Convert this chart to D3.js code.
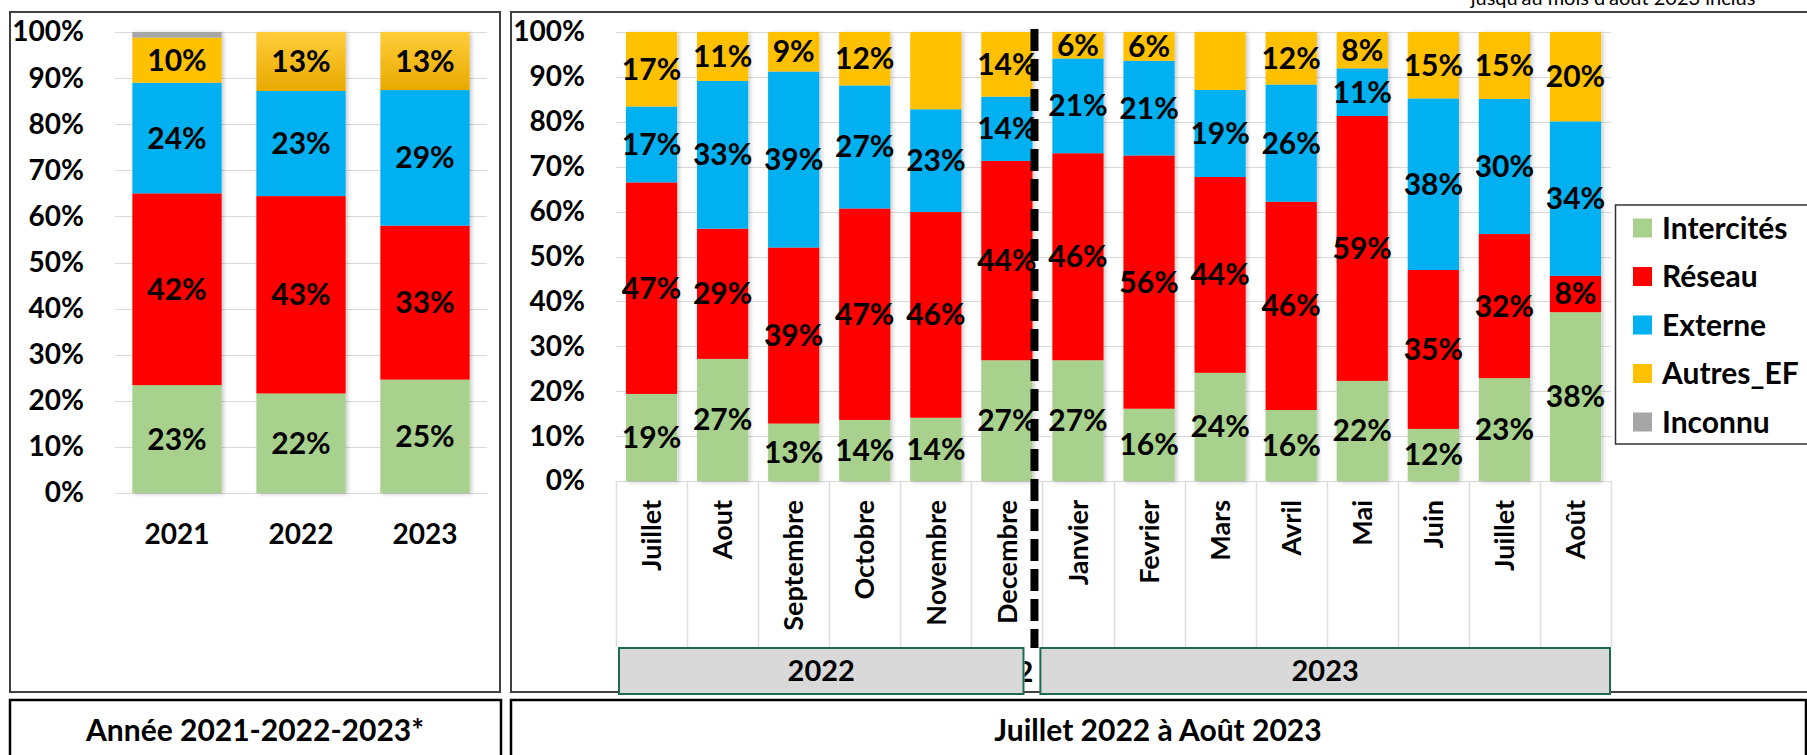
<!DOCTYPE html>
<html>
<head>
<meta charset="utf-8">
<script src="https://cdn.jsdelivr.net/npm/d3@7"></script>
<style>
  html, body { margin: 0; padding: 0; background: #ffffff; }
  svg { display: block; }
  text { font-family: Lato, "Open Sans", sans-serif; }
</style>
</head>
<body>
<svg id="chart" width="1807" height="755"></svg>
<script>
// ---------------- DATA ----------------
const seriesNames = ["Intercités", "Réseau", "Externe", "Autres_EF", "Inconnu"];
const seriesColors = ["#a9d18e", "#ff0000", "#00b0f0", "#ffc000", "#a6a6a6"];

// Left chart : années
const yearCats = ["2021", "2022", "2023"];
const yearIntercites = [23.4, 21.6, 24.6];
const yearReseau     = [41.6, 42.8, 33.4];
const yearExterne    = [24.0, 22.8, 29.4];
const yearAutres     = [9.8, 12.8, 12.6];
const yearInconnu    = [1.2, 0, 0];
const yearGradientCats = ["2022", "2023"];

// Right chart : mois
const monthLabels = ["Juillet", "Aout", "Septembre", "Octobre", "Novembre", "Decembre",
                     "Janvier", "Fevrier", "Mars", "Avril", "Mai", "Juin", "Juillet", "Août"];
const monthYears = ["2022", "2022", "2022", "2022", "2022", "2022",
                    "2023", "2023", "2023", "2023", "2023", "2023", "2023", "2023"];
const monthIntercites = [19.4, 27.2, 12.8, 13.6, 14.1, 26.9, 26.9, 16.1, 24.1, 15.8, 22.3, 11.6, 22.9, 37.6];
const monthReseau     = [47.1, 29.0, 39.2, 47.1, 45.8, 44.4, 46.1, 56.4, 43.6, 46.4, 59.0, 35.4, 32.1, 8.1];
const monthExterne    = [16.9, 32.9, 39.2, 27.4, 22.9, 14.3, 21.1, 21.1, 19.4, 26.1, 10.6, 38.2, 30.1, 34.4];
const monthAutres     = [16.6, 10.9, 8.8, 11.9, 17.2, 14.4, 5.9, 6.4, 12.9, 11.7, 8.1, 14.8, 14.9, 19.9];
const monthInconnu    = [0, 0, 0, 0, 0, 0, 0, 0, 0, 0, 0, 0, 0, 0];
// labels not displayed in the original
const monthHiddenLabels = [[4, "Autres_EF"], [8, "Autres_EF"]];

const yTicks = [0, 10, 20, 30, 40, 50, 60, 70, 80, 90, 100];
const noteText = "jusqu'au mois d'août 2023 inclus";
const leftTitle = "Année 2021-2022-2023*";
const rightTitle = "Juillet 2022 à Août 2023";

// ---------------- DRAW ----------------
const svg = d3.select("#chart");
svg.append("rect").attr("width", 1807).attr("height", 755).attr("fill", "#fff");

const defs = svg.append("defs");
const f = defs.append("filter").attr("id", "shadow").attr("x", "-20%").attr("y", "-5%")
  .attr("width", "140%").attr("height", "110%");
f.append("feDropShadow").attr("dx", 2).attr("dy", 1).attr("stdDeviation", 2)
  .attr("flood-color", "#000").attr("flood-opacity", 0.22);
const g1 = defs.append("linearGradient").attr("id", "orangeGrad")
  .attr("x1", 0).attr("y1", 0).attr("x2", 0).attr("y2", 1);
g1.append("stop").attr("offset", "0%").attr("stop-color", "#ffcd3a");
g1.append("stop").attr("offset", "100%").attr("stop-color", "#e8a900");
const clip = defs.append("clipPath").attr("id", "strayClip");

const AXIS_FONT = 28;
const LABEL_FONT = 30;
const LEGEND_FONT = 30;
const TITLE_FONT = 30;
const MONTH_FONT = 27;

// panels
svg.append("rect").attr("x", 10).attr("y", 12).attr("width", 490).attr("height", 680)
  .attr("fill", "none").attr("stroke", "#404040").attr("stroke-width", 2);
svg.append("rect").attr("x", 511).attr("y", 12).attr("width", 1310).attr("height", 680)
  .attr("fill", "none").attr("stroke", "#404040").attr("stroke-width", 2);
svg.append("rect").attr("x", 10).attr("y", 700).attr("width", 491).attr("height", 70)
  .attr("fill", "none").attr("stroke", "#000").attr("stroke-width", 2.5);
svg.append("rect").attr("x", 511).attr("y", 700).attr("width", 1295).attr("height", 70)
  .attr("fill", "none").attr("stroke", "#000").attr("stroke-width", 2.5);

svg.append("text").attr("x", 255).attr("y", 730).attr("dy", "0.35em")
  .attr("text-anchor", "middle").attr("font-weight", 700).attr("font-size", TITLE_FONT).text(leftTitle);
svg.append("text").attr("x", 1158).attr("y", 730).attr("dy", "0.35em")
  .attr("text-anchor", "middle").attr("font-weight", 700).attr("font-size", TITLE_FONT).text(rightTitle);

svg.append("text").attr("x", 1613).attr("y", 5).attr("text-anchor", "middle")
  .attr("font-size", 20).attr("fill", "#000").text(noteText);

function buildRows(cats, arrs) {
  return cats.map((c, i) => {
    const o = { key: i, cat: c };
    seriesNames.forEach((s, k) => { o[s] = arrs[k][i]; });
    return o;
  });
}

function drawStacked(cfg) {
  const { rows, x, y, axisX, hidden, gradientCats } = cfg;
  const stack = d3.stack().keys(seriesNames)(rows);
  const [x0, x1] = x.range();

  // gridlines
  svg.append("g").selectAll("line").data(yTicks).join("line")
    .attr("x1", x0).attr("x2", x1)
    .attr("y1", d => Math.round(y(d)) + 0.5).attr("y2", d => Math.round(y(d)) + 0.5)
    .attr("stroke", "#d9d9d9").attr("stroke-width", 1);

  // y axis labels
  const ya = svg.append("g").attr("transform", `translate(${axisX},0)`)
    .call(d3.axisLeft(y).tickValues(yTicks).tickFormat(d => d + "%").tickSize(0).tickPadding(0));
  ya.select(".domain").remove();
  ya.selectAll("text").attr("font-family", "Lato, sans-serif").attr("font-size", AXIS_FONT)
    .attr("font-weight", 700).attr("fill", "#000");

  // bars
  const gb = svg.append("g").attr("filter", "url(#shadow)");
  stack.forEach((layer, k) => {
    gb.append("g").selectAll("rect").data(layer).join("rect")
      .attr("x", d => x(d.data.key))
      .attr("width", x.bandwidth())
      .attr("y", d => y(d[1]))
      .attr("height", d => Math.max(0, y(d[0]) - y(d[1])))
      .attr("fill", d => (seriesNames[k] === "Autres_EF" && gradientCats && gradientCats.includes(d.data.cat))
        ? "url(#orangeGrad)" : seriesColors[k]);
  });

  // labels
  const gl = svg.append("g");
  stack.forEach((layer, k) => {
    const name = seriesNames[k];
    gl.append("g").selectAll("text")
      .data(layer.filter(d => (d[1] - d[0]) >= 2 &&
        !(hidden || []).some(h => h[0] === d.data.key && h[1] === name)))
      .join("text")
      .attr("x", d => x(d.data.key) + x.bandwidth() / 2)
      .attr("y", d => (y(d[0]) + y(d[1])) / 2)
      .attr("dy", "0.35em")
      .attr("text-anchor", "middle")
      .attr("font-size", LABEL_FONT).attr("font-weight", 700).attr("fill", "#000")
      .text(d => Math.round(d[1] - d[0]) + "%");
  });
  return stack;
}

// ---- Left chart ----
const leftRows = buildRows(yearCats, [yearIntercites, yearReseau, yearExterne, yearAutres, yearInconnu]);
const xL = d3.scaleBand().domain(leftRows.map(d => d.key)).range([115, 487])
  .paddingInner(0.28).paddingOuter(0.14);
const yL = d3.scaleLinear().domain([0, 100]).range([493, 32]);
drawStacked({ rows: leftRows, x: xL, y: yL, axisX: 84, gradientCats: yearGradientCats });

const xaL = svg.append("g").attr("transform", `translate(0,${yL(0)})`)
  .call(d3.axisBottom(xL).tickFormat(i => yearCats[i]).tickSize(0).tickPadding(31));
xaL.select(".domain").remove();
xaL.selectAll("text").attr("font-family", "Lato, sans-serif").attr("font-size", AXIS_FONT)
  .attr("font-weight", 700).attr("fill", "#000");

// ---- Right chart ----
const rightRows = buildRows(monthLabels, [monthIntercites, monthReseau, monthExterne, monthAutres, monthInconnu]);
const xR = d3.scaleBand().domain(rightRows.map(d => d.key)).range([616, 1611])
  .paddingInner(0.28).paddingOuter(0.14);
const yR = d3.scaleLinear().domain([0, 100]).range([481, 32]);

// category cells
const cellTop = yR(0), cellBottom = 647;
const step = xR.step();
const bounds = d3.range(monthLabels.length + 1).map(i => xR.range()[0] + i * step);
svg.append("g").selectAll("line").data(bounds).join("line")
  .attr("x1", d => Math.round(d) + 0.5).attr("x2", d => Math.round(d) + 0.5)
  .attr("y1", cellTop).attr("y2", cellBottom)
  .attr("stroke", "#dedede").attr("stroke-width", 1.5);

drawStacked({ rows: rightRows, x: xR, y: yR, axisX: 585, hidden: monthHiddenLabels });

const xaR = svg.append("g").attr("transform", `translate(0,${yR(0)})`)
  .call(d3.axisBottom(xR).tickFormat(i => monthLabels[i]).tickSize(0));
xaR.select(".domain").remove();
xaR.selectAll("text")
  .attr("font-family", "Lato, sans-serif").attr("font-size", MONTH_FONT)
  .attr("font-weight", 700).attr("fill", "#000")
  .attr("transform", "rotate(-90)")
  .attr("text-anchor", "end")
  .attr("x", -19).attr("y", 0).attr("dy", "0.36em");

// year boxes
const yearGroups = Array.from(new Set(monthYears));
const idx2022 = monthYears.map((y, i) => [y, i]).filter(d => d[0] === yearGroups[0]).map(d => d[1]);
const idx2023 = monthYears.map((y, i) => [y, i]).filter(d => d[0] === yearGroups[1]).map(d => d[1]);
const boxes = [
  { label: yearGroups[0], x0: xR.range()[0] + 3, x1: xR(d3.max(idx2022)) + xR.bandwidth() - 9 },
  { label: yearGroups[1], x0: xR(d3.min(idx2023)) - 12, x1: xR.range()[1] - 1 }
];
// stray "2" partly visible between the boxes
clip.append("rect").attr("x", boxes[0].x1 + 1).attr("y", 640).attr("width", 14).attr("height", 60);
svg.append("text").attr("x", boxes[0].x1 - 7).attr("y", 672).attr("dy", "0.35em")
  .attr("clip-path", "url(#strayClip)")
  .attr("font-size", 29).attr("font-weight", 700).text(yearGroups[0].slice(0, 1));

const gy = svg.append("g").selectAll("g").data(boxes).join("g");
gy.append("rect").attr("x", d => d.x0).attr("y", 648).attr("width", d => d.x1 - d.x0).attr("height", 46)
  .attr("fill", "#d9d9d9").attr("stroke", "#1d6b4d").attr("stroke-width", 2);
gy.append("text").attr("x", d => (d.x0 + d.x1) / 2).attr("y", 671).attr("dy", "0.35em")
  .attr("text-anchor", "middle").attr("font-size", 29).attr("font-weight", 700).text(d => d.label);

// dashed separator
const sepX = xR(d3.max(idx2022)) + xR.bandwidth() + 2;
svg.append("line").attr("x1", sepX).attr("x2", sepX).attr("y1", 29).attr("y2", 648)
  .attr("stroke", "#000").attr("stroke-width", 8).attr("stroke-dasharray", "22,8");

// legend
svg.append("rect").attr("x", 1615.5).attr("y", 205).attr("width", 200).attr("height", 239)
  .attr("fill", "#fff").attr("stroke", "#333").attr("stroke-width", 1.5);
const lg = svg.append("g").selectAll("g").data(seriesNames).join("g")
  .attr("transform", (d, i) => `translate(1633,${228 + i * 48.5})`);
lg.append("rect").attr("x", 0).attr("y", -9.5).attr("width", 19).attr("height", 19)
  .attr("fill", (d, i) => seriesColors[i]);
lg.append("text").attr("x", 29).attr("y", 0).attr("dy", "0.35em")
  .attr("font-size", LEGEND_FONT).attr("font-weight", 700).text(d => d);
</script>
</body>
</html>
